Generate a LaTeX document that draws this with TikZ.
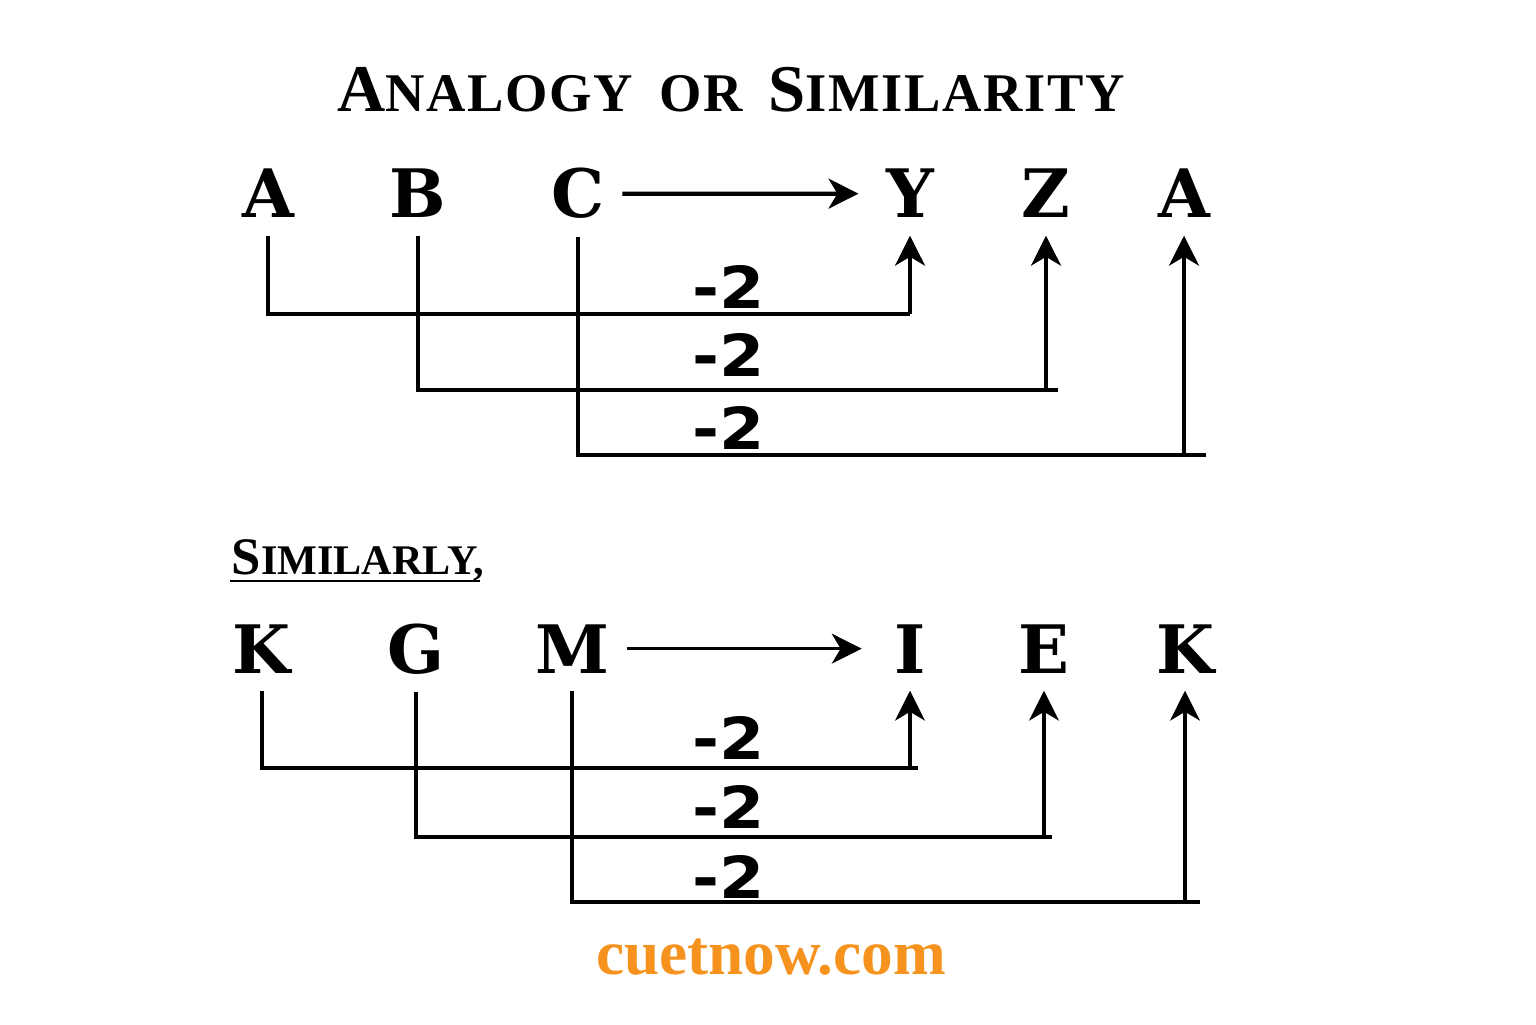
\documentclass[tikz,border=0pt]{standalone}
\usepackage{fontspec}
\usepackage{graphicx}
\usetikzlibrary{arrows.meta}
\setmainfont{Liberation Serif}
\newfontfamily\titlefont[LetterSpace=3]{Liberation Serif}
\newfontfamily\letterfont{DejaVu Serif}
\newfontfamily\stepfont{DejaVu Sans}
\definecolor{cuetorange}{RGB}{246,146,30}

\tikzstyle{letter}=[anchor=base, inner sep=0.17cm, font=\letterfont\bfseries\fontsize{19}{19}\selectfont]
\tikzstyle{steplabel}=[font=\stepfont\bfseries\fontsize{16.5}{16.5}\selectfont]
\tikzstyle{linkA}=[line width=1.2pt]
\tikzstyle{linkB}=[line width=0.9pt]
\tikzstyle{up}=[-{Stealth[length=8.5pt,width=8.5pt,inset=2.5pt]}]

\begin{document}
\begin{tikzpicture}
\useasboundingbox (0,0) rectangle (15.36,10.24);

\node[font=\titlefont\bfseries] (title) at (7.31,9.34) {\fontsize{19}{19}\selectfont A\fontsize{15.5}{15.5}\selectfont NALOGY\hspace{0.2em} OR\hspace{0.2em} \fontsize{19}{19}\selectfont S\fontsize{15.5}{15.5}\selectfont IMILARITY};

\node[letter] (a1) at (2.68,8.06) {A};
\node[letter] (b1) at (4.18,8.06) {B};
\node[letter] (c1) at (5.78,8.06) {C};
\node[letter] (y1) at (9.10,8.06) {Y};
\node[letter] (z1) at (10.46,8.06) {Z};
\node[letter] (a2) at (11.84,8.06) {A};

\draw[linkA,up,shorten >=0.1cm] (c1.east) -- (y1.west);

\coordinate (h1) at (9.10,7.10);
\coordinate (h2) at (10.58,6.34);
\coordinate (h3) at (12.06,5.69);
\draw[linkA] (a1.south) |- (h1);
\draw[linkA] (b1.south) |- (h2);
\draw[linkA] (c1.south) |- (h3);
\draw[linkA,up] (h1) -- (y1.south);
\draw[linkA,up] (z1.south |- h2) -- (z1.south);
\draw[linkA,up] (a2.south |- h3) -- (a2.south);

\node[steplabel] (s1) at (7.29,7.37) {\scalebox{1.12}[1]{-2}};
\node[steplabel] (s2) at (7.29,6.69) {\scalebox{1.12}[1]{-2}};
\node[steplabel] (s3) at (7.29,5.96) {\scalebox{1.12}[1]{-2}};

\node (sim) at (3.58,4.64) {\bfseries\fontsize{15}{15}\selectfont S\fontsize{12}{12}\selectfont IMILARLY,};
\draw[line width=0.8pt] (2.30,4.43) -- (4.80,4.43);

\node[letter] (k1) at (2.62,3.51) {K};
\node[letter] (g1) at (4.16,3.51) {G};
\node[letter] (m1) at (5.72,3.51) {M};
\node[letter] (i1) at (9.10,3.51) {I};
\node[letter] (e1) at (10.44,3.51) {E};
\node[letter] (k2) at (11.85,3.51) {K};

\draw[linkB,up,shorten >=0.15cm] (m1.east) -- (i1.west);

\coordinate (g1h) at (9.18,2.56);
\coordinate (g2h) at (10.52,1.87);
\coordinate (g3h) at (12.00,1.22);
\draw[linkB] (k1.south) |- (g1h);
\draw[linkB] (g1.south) |- (g2h);
\draw[linkB] (m1.south) |- (g3h);
\draw[linkB,up] (i1.south |- g1h) -- (i1.south);
\draw[linkB,up] (e1.south |- g2h) -- (e1.south);
\draw[linkB,up] (k2.south |- g3h) -- (k2.south);

\node[steplabel] (t1) at (7.29,2.86) {\scalebox{1.12}[1]{-2}};
\node[steplabel] (t2) at (7.29,2.17) {\scalebox{1.12}[1]{-2}};
\node[steplabel] (t3) at (7.29,1.47) {\scalebox{1.12}[1]{-2}};

\node[text=cuetorange] (site) at (7.71,0.67) {\bfseries\fontsize{18}{18}\selectfont cuetnow.com};
\end{tikzpicture}
\end{document}
